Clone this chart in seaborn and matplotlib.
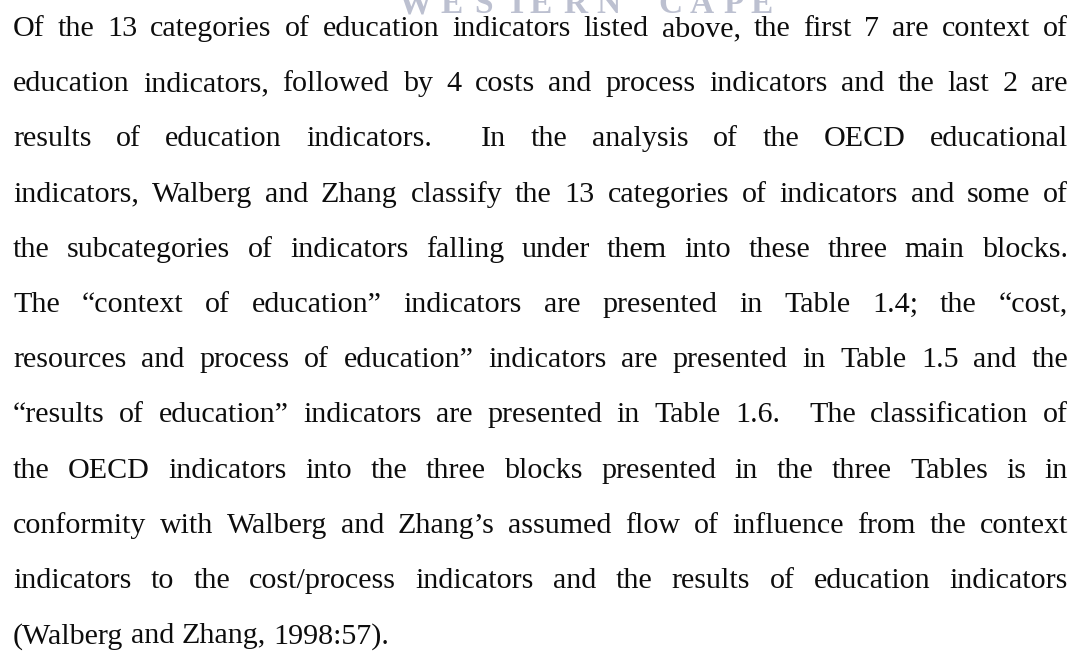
import matplotlib
matplotlib.use('Agg')
import matplotlib.pyplot as plt
import seaborn as sns
from matplotlib.font_manager import FontProperties, findfont

# paragraph lines as they break on the page
lines = [
    "Of the 13 categories of education indicators listed above, the first 7 are context of",
    "education indicators, followed by 4 costs and process indicators and the last 2 are",
    "results of education indicators.  In the analysis of the OECD educational",
    "indicators, Walberg and Zhang classify the 13 categories of indicators and some of",
    "the subcategories of indicators falling under them into these three main blocks.",
    "The \u201ccontext of education\u201d indicators are presented in Table 1.4; the \u201ccost,",
    "resources and process of education\u201d indicators are presented in Table 1.5 and the",
    "\u201cresults of education\u201d indicators are presented in Table 1.6.  The classification of",
    "the OECD indicators into the three blocks presented in the three Tables is in",
    "conformity with Walberg and Zhang\u2019s assumed flow of influence from the context",
    "indicators to the cost/process indicators and the results of education indicators",
    "(Walberg and Zhang, 1998:57).",
]

# faint watermark letters along the top edge
wm_letters = list("WESTERNCAPE")
wm_x = [415, 452, 484, 517, 541, 575, 608, 670, 702, 734, 762]

W, H = 1075, 666
LEFT, RIGHT = 13, 1068
FIRST_BASE, LEAD = 36, 55.2

sns.set_theme(style='white')
plt.rcParams['font.family'] = ['Liberation Serif', 'DejaVu Serif']

fig = plt.figure(figsize=(W / 100, H / 100), dpi=100)
fig.patch.set_facecolor('white')

# make sure the serif file itself is used (Times metrics)
serif_path = findfont(FontProperties(family='Liberation Serif'), fallback_to_default=False)
bold_path = findfont(FontProperties(family='Liberation Serif', weight='bold'), fallback_to_default=False)
size_pt = 30 * 72 / 100
fp = FontProperties(fname=serif_path, size=size_pt)
fp_wm = FontProperties(fname=bold_path, size=24)
renderer = fig.canvas.get_renderer()


def width_px(s):
    if not s:
        return 0.0
    w, h, d = renderer.get_text_width_height_descent(s, fp, ismath=False)
    return w


# watermark
for ch, x in zip(wm_letters, wm_x):
    fig.text(x / W, 1 - 13 / H, ch, ha='center', va='baseline',
             fontproperties=fp_wm, color='#bcc0d0')

space_w = width_px('a b') - width_px('ab')
for i, line in enumerate(lines):
    y = FIRST_BASE + LEAD * i
    tokens = line.split(' ')
    widths = [width_px(t) for t in tokens]
    if i < len(lines) - 1 and len(tokens) > 1:
        gap = (RIGHT - LEFT - sum(widths)) / (len(tokens) - 1)
    else:
        gap = space_w
    x = LEFT
    for t, w in zip(tokens, widths):
        if t:
            fig.text(x / W, 1 - y / H, t, ha='left', va='baseline',
                     fontproperties=fp, color='#0d0d0d')
        x += w + gap

fig.savefig('out.png', dpi=100, facecolor='white')
